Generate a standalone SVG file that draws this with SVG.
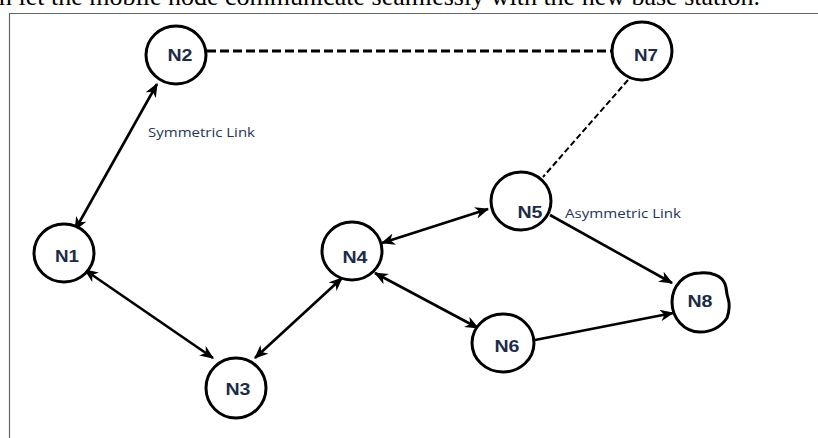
<svg xmlns="http://www.w3.org/2000/svg" width="818" height="438" viewBox="0 0 818 438">
<style>
.node{fill:#fff;stroke:#000;stroke-width:3}
.lbl{font-family:"Liberation Sans",Arial,sans-serif;font-weight:bold;font-size:16px;fill:#1c2b48;text-anchor:middle}
.note{font-family:"Open Sans","Liberation Sans",sans-serif;font-size:13px;fill:#23345a}
.link{stroke:#000;stroke-width:2.6;fill:none}
.dash1{stroke:#000;stroke-width:3.2;stroke-dasharray:9 4;fill:none}
.dash2{stroke:#000;stroke-width:2;stroke-dasharray:6 3;fill:none}
.frame{stroke:#666;stroke-width:1.2;fill:none}
</style>
<defs>
<marker id="ah" viewBox="0 0 12 10" refX="11" refY="5" markerWidth="14" markerHeight="12" markerUnits="userSpaceOnUse" orient="auto-start-reverse">
<path d="M0,0 L12,5 L0,10 L3.5,5 Z" fill="#000"/>
</marker>
</defs>
<rect width="818" height="438" fill="#fff"/>
<text x="760" y="5" text-anchor="end" font-family="Liberation Serif,Times New Roman,serif" font-size="26" fill="#000">m let the mobile node communicate seamlessly with the new base station.</text>
<path class="frame" d="M9.5,438 V13.5 H818"/>
<g id="connectors">
<line class="dash1" x1="207" y1="51" x2="611" y2="51"/>
<line class="dash2" x1="628" y1="80" x2="543" y2="177"/>
<line class="link" stroke-width="2.2" x1="75" y1="230" x2="157" y2="84" marker-start="url(#ah)" marker-end="url(#ah)"/>
<line class="link" x1="85" y1="270" x2="213" y2="358" marker-start="url(#ah)" marker-end="url(#ah)"/>
<line class="link" stroke-width="2.2" x1="255" y1="358" x2="342" y2="278" marker-start="url(#ah)" marker-end="url(#ah)"/>
<line class="link" x1="382" y1="243" x2="488" y2="209" marker-start="url(#ah)" marker-end="url(#ah)"/>
<line class="link" x1="375" y1="273" x2="478" y2="328" marker-start="url(#ah)" marker-end="url(#ah)"/>
<line class="link" x1="550" y1="215" x2="672" y2="283" marker-end="url(#ah)"/>
<line class="link" x1="535" y1="340" x2="673" y2="313" marker-end="url(#ah)"/>
</g>
<g id="N1"><ellipse class="node" cx="64" cy="253" rx="30" ry="29"/><text class="lbl" x="67" y="262" textLength="24" lengthAdjust="spacingAndGlyphs">N1</text></g>
<g id="N2"><ellipse class="node" cx="176" cy="55" rx="30" ry="29"/><text class="lbl" x="180" y="61" textLength="25" lengthAdjust="spacingAndGlyphs">N2</text></g>
<g id="N3"><ellipse class="node" cx="236" cy="388" rx="30" ry="30"/><text class="lbl" x="238" y="395" textLength="25" lengthAdjust="spacingAndGlyphs">N3</text></g>
<g id="N4"><ellipse class="node" cx="352" cy="251" rx="30" ry="29"/><text class="lbl" x="355" y="263" textLength="25" lengthAdjust="spacingAndGlyphs">N4</text></g>
<g id="N5"><ellipse class="node" cx="521" cy="201" rx="30" ry="29"/><text class="lbl" x="530" y="218" textLength="25" lengthAdjust="spacingAndGlyphs">N5</text></g>
<g id="N6"><ellipse class="node" cx="503" cy="343" rx="31" ry="29"/><text class="lbl" x="507" y="352" textLength="25" lengthAdjust="spacingAndGlyphs">N6</text></g>
<g id="N7"><ellipse class="node" cx="642" cy="51" rx="30" ry="29"/><text class="lbl" x="646" y="61" textLength="24" lengthAdjust="spacingAndGlyphs">N7</text></g>
<g id="N8"><path class="node" d="M700,273 C712,272 722,276 725,284 C727,289 726,293 728,298 C730,304 729,312 727,318 C720,328 712,332 700,332 C684,332 672,318 672,302 C672,286 684,273 700,273 Z"/><text class="lbl" x="700" y="307" textLength="25" lengthAdjust="spacingAndGlyphs">N8</text></g>
<text class="note" x="148" y="137" textLength="107" lengthAdjust="spacingAndGlyphs">Symmetric Link</text>
<text class="note" x="565" y="218" textLength="116" lengthAdjust="spacingAndGlyphs">Asymmetric Link</text>
</svg>
